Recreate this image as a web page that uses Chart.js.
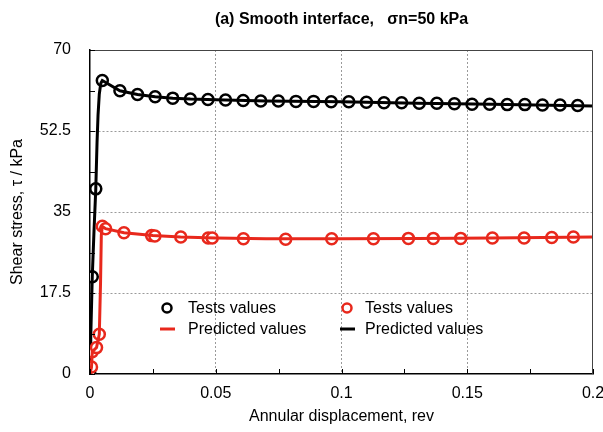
<!DOCTYPE html>
<html>
<head>
<meta charset="utf-8">
<script src="https://cdn.jsdelivr.net/npm/chart.js@4/dist/chart.umd.min.js"></script>
<style>
html, body { margin: 0; padding: 0; background: #fff; }
</style>
</head>
<body>
<canvas id="chart" width="603" height="432"></canvas>
<script>
// test values (circles)
var blackTestX = [0, 0.0009, 0.0023, 0.0049, 0.0119, 0.0189, 0.0259, 0.0329, 0.0399, 0.0469, 0.0539, 0.0609, 0.0679, 0.0749, 0.0819, 0.0889, 0.0959, 0.1029, 0.1099, 0.1169, 0.1239, 0.1309, 0.1379, 0.1449, 0.1519, 0.1589, 0.1659, 0.1729, 0.1799, 0.1869, 0.1939]
var blackTestY = [0, 21, 40, 63.4, 61.2, 60.4, 59.9, 59.6, 59.4, 59.3, 59.2, 59.1, 59.0, 59.0, 58.9, 58.9, 58.8, 58.8, 58.7, 58.6, 58.6, 58.5, 58.5, 58.4, 58.3, 58.3, 58.2, 58.2, 58.1, 58.1, 58.0]
var redTestX = [0.0006, 0.0009, 0.0026, 0.0037, 0.0049, 0.0062, 0.0135, 0.0245, 0.0258, 0.0361, 0.047, 0.0486, 0.061, 0.0778, 0.0961, 0.1127, 0.1266, 0.1365, 0.1474, 0.16, 0.1726, 0.1836, 0.1922]
var redTestY = [1.5, 4.8, 5.7, 8.6, 31.9, 31.4, 30.5, 29.9, 29.8, 29.6, 29.4, 29.4, 29.2, 29.1, 29.2, 29.2, 29.3, 29.3, 29.3, 29.4, 29.4, 29.5, 29.6]

// predicted values (lines)
var blackPredX = [0, 0.0003, 0.0009, 0.0016, 0.0023, 0.0028, 0.0032, 0.0037, 0.0043, 0.0049, 0.0119, 0.0189, 0.0259, 0.0329, 0.0399, 0.05, 0.07, 0.1, 0.13, 0.16, 0.2]
var blackPredY = [0, 8, 21, 31, 40, 50, 56, 60.5, 62.8, 63.4, 61.2, 60.4, 59.9, 59.6, 59.4, 59.25, 59.0, 58.8, 58.5, 58.3, 57.9]
var redPredX = [0, 0.0006, 0.0009, 0.0026, 0.0037, 0.0042, 0.0045, 0.0049, 0.0062, 0.0135, 0.025, 0.036, 0.05, 0.07, 0.1, 0.13, 0.16, 0.2]
var redPredY = [0, 1.5, 4.8, 5.7, 8.6, 20, 30, 31.9, 31.4, 30.5, 29.9, 29.6, 29.4, 29.2, 29.2, 29.3, 29.4, 29.6]

var xTicks = [0, 0.05, 0.1, 0.15, 0.2]
var yTicks = [0, 17.5, 35, 52.5, 70]
var xMinorStep = 0.025
var yMinorStep = 8.75

var RED = "#e8281c"
var FONT = '"Liberation Sans", Arial, sans-serif'

function pts(xs, ys) {
    return xs.map((x, i) => ({x: x, y: ys[i]}))
}

const extras = {
    id: "extras",
    afterDraw(chart) {
        const ctx = chart.ctx
        const a = chart.chartArea
        const xs = chart.scales.x
        const ys = chart.scales.y
        ctx.save()
        // top and right frame
        ctx.strokeStyle = "#444"
        ctx.lineWidth = 1
        ctx.beginPath()
        ctx.moveTo(a.left, a.top + 0.5)
        ctx.lineTo(a.right - 0.5, a.top + 0.5)
        ctx.lineTo(a.right - 0.5, a.bottom)
        ctx.stroke()
        // inward tick marks
        ctx.strokeStyle = "#000"
        ctx.beginPath()
        for (let v = 0; v <= 0.2 + 1e-9; v += xMinorStep) {
            const px = Math.round(xs.getPixelForValue(v)) + 0.5
            ctx.moveTo(px, a.bottom)
            ctx.lineTo(px, a.bottom - 5)
        }
        for (let v = 0; v <= 70 + 1e-9; v += yMinorStep) {
            const py = Math.round(ys.getPixelForValue(v)) + 0.5
            ctx.moveTo(a.left, py)
            ctx.lineTo(a.left + 5, py)
        }
        ctx.stroke()

        // title
        ctx.fillStyle = "#000"
        ctx.font = "bold 16px " + FONT
        ctx.textAlign = "center"
        ctx.textBaseline = "middle"
        ctx.fillText("(a) Smooth interface,   σn=50 kPa", (a.left + a.right) / 2, 20)

        // legend
        ctx.font = "16px " + FONT
        ctx.textAlign = "left"
        const rows = [
            {kind: "circle", color: "#000", label: "Tests values", x: 167, y: 308},
            {kind: "circle", color: RED, label: "Tests values", x: 347, y: 308},
            {kind: "line", color: RED, label: "Predicted values", x: 167, y: 329},
            {kind: "line", color: "#000", label: "Predicted values", x: 347, y: 329}
        ]
        rows.forEach(r => {
            ctx.strokeStyle = r.color
            ctx.lineWidth = r.kind == "circle" ? 2.5 : 3
            ctx.beginPath()
            if (r.kind == "circle") {
                ctx.arc(r.x, r.y, 4.5, 0, Math.PI * 2)
            } else {
                ctx.moveTo(r.x - 7, r.y)
                ctx.lineTo(r.x + 8, r.y)
            }
            ctx.stroke()
            ctx.fillStyle = "#000"
            ctx.fillText(r.label, r.x + (r.x > 300 ? 18 : 21), r.y + 1)
        })
        ctx.restore()
    }
}

new Chart(document.querySelector("#chart"), {
    type: "scatter",
    data: {
        datasets: [
            {
                label: "Predicted values (red)",
                data: pts(redPredX, redPredY),
                showLine: true,
                borderColor: RED,
                borderWidth: 3,
                pointRadius: 0,
                tension: 0
            },
            {
                label: "Tests values (red)",
                data: pts(redTestX, redTestY),
                showLine: false,
                borderColor: RED,
                backgroundColor: "#fff",
                borderWidth: 2.5,
                pointRadius: 5.5
            },
            {
                label: "Predicted values (black)",
                data: pts(blackPredX, blackPredY),
                showLine: true,
                borderColor: "#000",
                borderWidth: 3,
                pointRadius: 0,
                tension: 0
            },
            {
                label: "Tests values (black)",
                data: pts(blackTestX, blackTestY),
                showLine: false,
                borderColor: "#000",
                backgroundColor: "#fff",
                borderWidth: 2.5,
                pointRadius: 5.5
            }
        ]
    },
    options: {
        responsive: false,
        animation: false,
        layout: { padding: { top: 50, right: 10, left: 0, bottom: 0 } },
        plugins: {
            legend: { display: false },
            tooltip: { enabled: false }
        },
        scales: {
            x: {
                type: "linear",
                min: 0,
                max: 0.2,
                afterBuildTicks: s => { s.ticks = xTicks.map(v => ({value: v})) },
                afterFit: s => { s.height = 58; s.paddingRight = 0; s.paddingLeft = 0 },
                ticks: {
                    color: "#000",
                    font: { family: FONT, size: 16 },
                    padding: 10,
                    maxRotation: 0,
                    callback: v => String(v)
                },
                grid: {
                    drawTicks: false,
                    color: c => (c.tick && (c.tick.value == 0 || c.tick.value == 0.2)) ? "rgba(0,0,0,0)" : "#9a9a9a",
                    lineWidth: 1
                },
                border: { display: true, color: "#000", width: 1.5, dash: [2, 2] },
                title: {
                    display: true,
                    text: "Annular displacement, rev",
                    color: "#000",
                    font: { family: FONT, size: 16 },
                    padding: { top: 0, bottom: 6 }
                }
            },
            y: {
                type: "linear",
                min: 0,
                max: 70,
                afterBuildTicks: s => { s.ticks = yTicks.map(v => ({value: v})) },
                afterFit: s => { s.width = 90; s.paddingTop = 0; s.paddingBottom = 0 },
                ticks: {
                    color: "#000",
                    font: { family: FONT, size: 16 },
                    padding: 19,
                    callback: v => String(v)
                },
                grid: {
                    drawTicks: false,
                    color: c => (c.tick && (c.tick.value == 0 || c.tick.value == 70)) ? "rgba(0,0,0,0)" : "#9a9a9a",
                    lineWidth: 1
                },
                border: { display: true, color: "#000", width: 1.5, dash: [2, 2] },
                title: {
                    display: true,
                    text: "Shear stress, τ / kPa",
                    color: "#000",
                    font: { family: FONT, size: 16 },
                    padding: { top: 8, bottom: 0 }
                }
            }
        }
    },
    plugins: [extras]
})
</script>
</body>
</html>
